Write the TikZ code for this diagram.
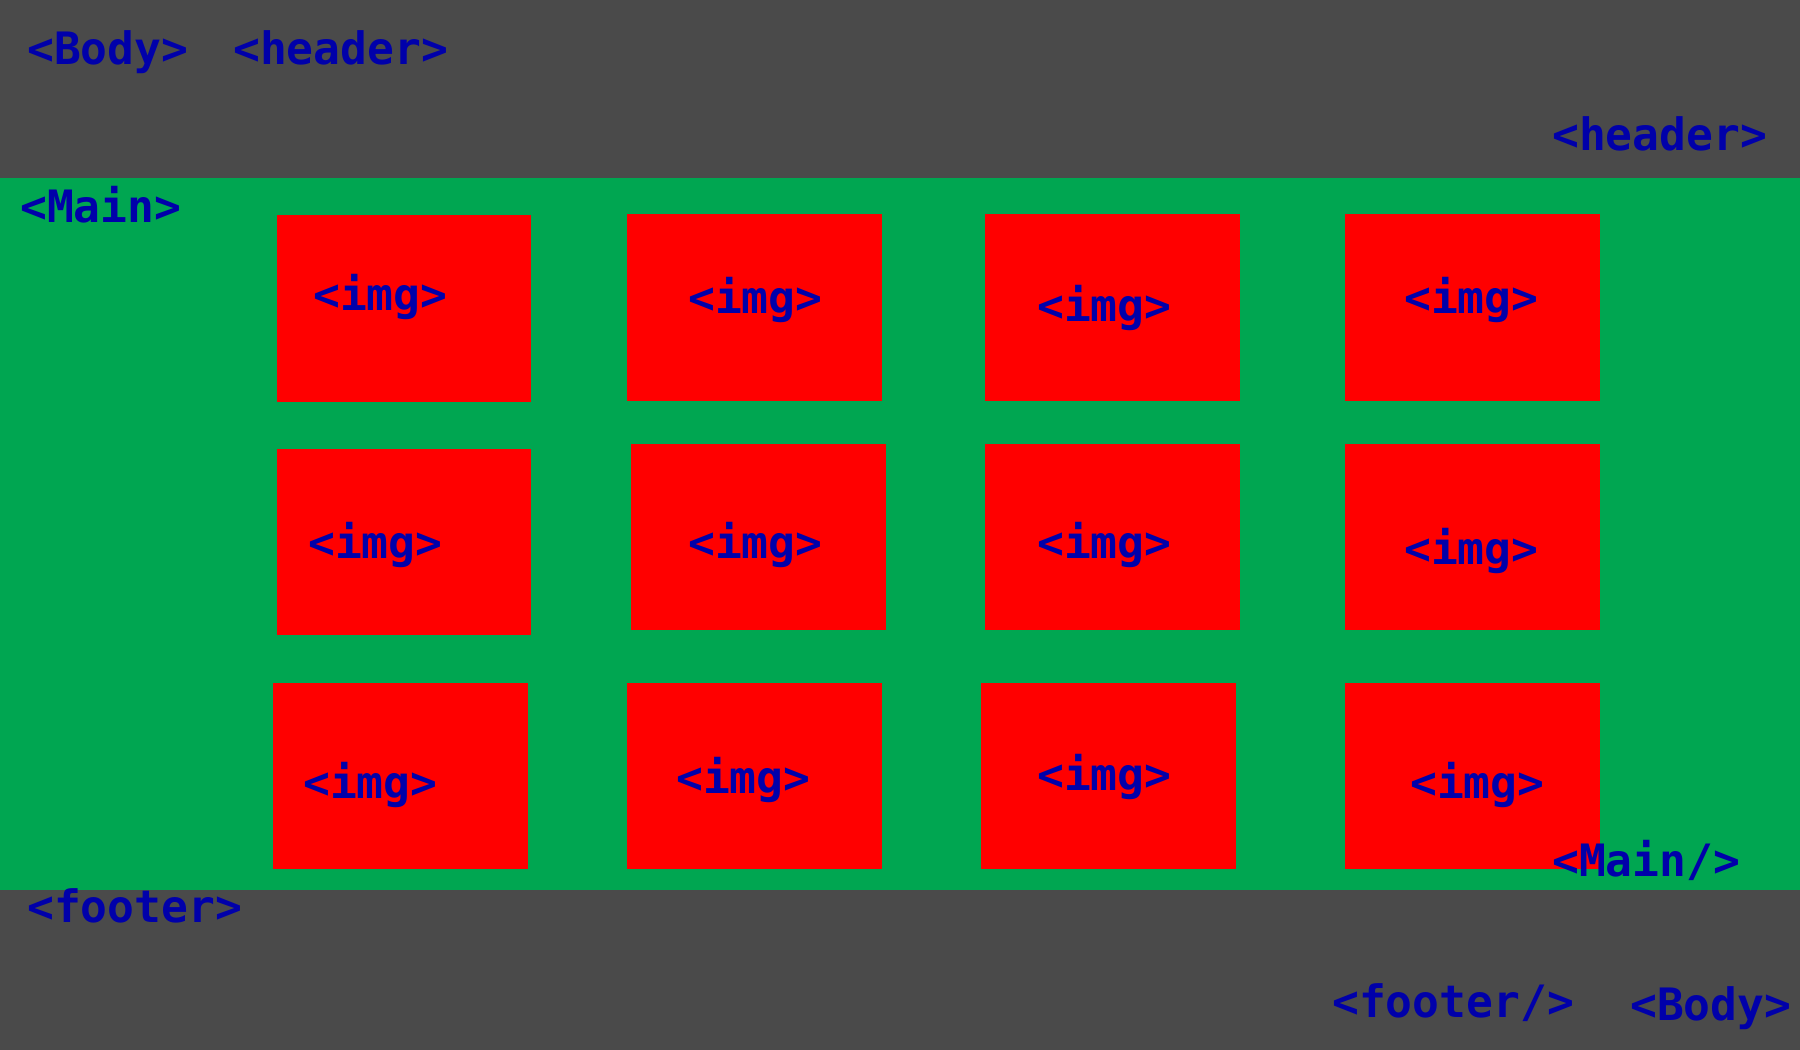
\documentclass[tikz,border=0pt]{standalone}
\usepackage{fontspec}
\newfontfamily\labfont{DejaVu Sans Mono}
\definecolor{bodygray}{RGB}{74,74,74}
\definecolor{maingreen}{RGB}{0,166,81}
\definecolor{imgred}{RGB}{255,0,0}
\definecolor{tagblue}{RGB}{0,0,170}
\tikzset{
  tag/.style={anchor=base west, inner sep=0pt, text=tagblue,
    font=\labfont\bfseries\fontsize{44.6}{50}\selectfont},
  imgbox/.style={fill=imgred, draw=none}
}
\begin{document}
\begin{tikzpicture}[x=1pt,y=-1pt]
\useasboundingbox (0,0) rectangle (1800,1050);
\fill[bodygray] (0,0) rectangle (1800,1050);
\fill[maingreen] (0,178) rectangle (1800,890);
% image boxes
\fill[imgbox] (277,215) rectangle (531,402);
\fill[imgbox] (627,214) rectangle (882,401);
\fill[imgbox] (985,214) rectangle (1240,401);
\fill[imgbox] (1345,214) rectangle (1600,401);
\fill[imgbox] (277,449) rectangle (531,635);
\fill[imgbox] (631,444) rectangle (886,630);
\fill[imgbox] (985,444) rectangle (1240,630);
\fill[imgbox] (1345,444) rectangle (1600,630);
\fill[imgbox] (273,683) rectangle (528,869);
\fill[imgbox] (627,683) rectangle (882,869);
\fill[imgbox] (981,683) rectangle (1236,869);
\fill[imgbox] (1345,683) rectangle (1600,869);
% labels
\node[tag] (bodyA) at (27,64) {<Body>};
\node[tag] (headA) at (233,64) {<header>};
\node[tag] (headB) at (1552,150) {<header>};
\node[tag] (mainA) at (20,222) {<Main>};
\node[tag] (i11) at (313,310) {<img>};
\node[tag] (i12) at (688,313) {<img>};
\node[tag] (i13) at (1037,321) {<img>};
\node[tag] (i14) at (1404,313) {<img>};
\node[tag] (i21) at (308,558) {<img>};
\node[tag] (i22) at (688,558) {<img>};
\node[tag] (i23) at (1037,558) {<img>};
\node[tag] (i24) at (1404,564) {<img>};
\node[tag] (i31) at (303,798) {<img>};
\node[tag] (i32) at (676,793) {<img>};
\node[tag] (i33) at (1037,790) {<img>};
\node[tag] (i34) at (1410,798) {<img>};
\node[tag] (mainB) at (1552,876) {<Main/>};
\node[tag] (footA) at (27,922) {<footer>};
\node[tag] (footB) at (1332,1017) {<footer/>};
\node[tag] (bodyB) at (1630,1020) {<Body>};
\end{tikzpicture}
\end{document}
